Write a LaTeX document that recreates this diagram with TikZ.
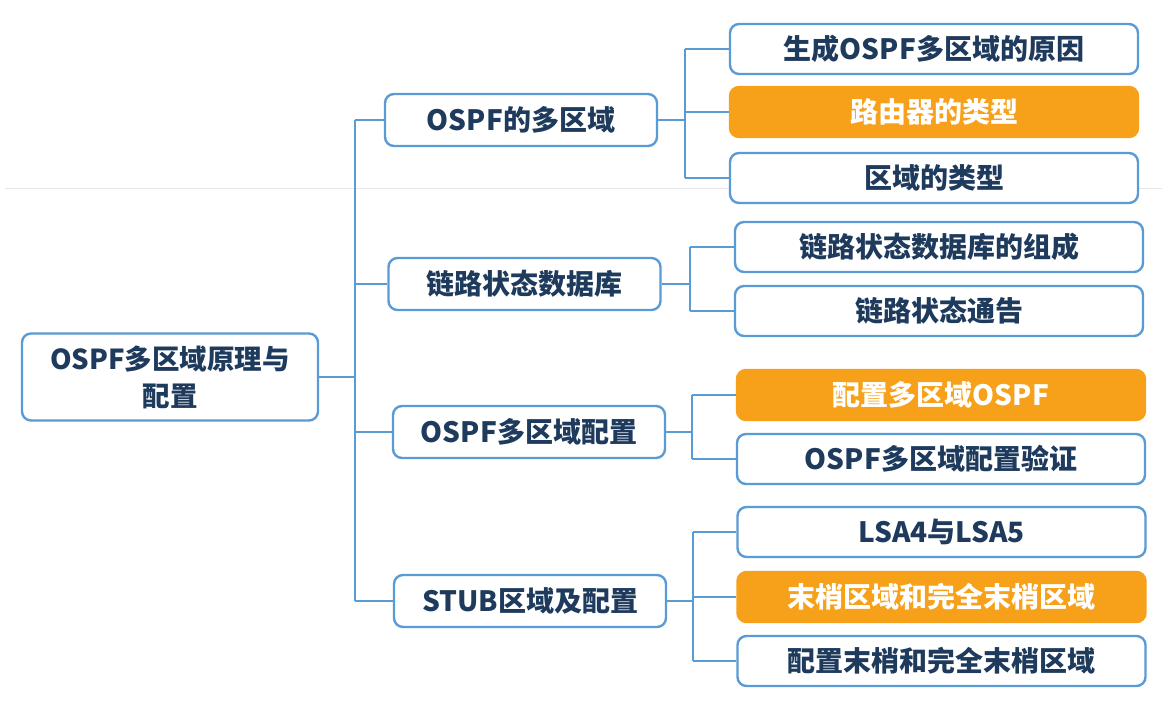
\documentclass[tikz,border=0pt]{standalone}
\usepackage{fontspec}
\usepackage{tikz}
\usetikzlibrary{positioning,calc}
\newfontfamily\cjk{Noto Sans CJK SC}
\definecolor{ink}{HTML}{1E3A5C}
\definecolor{edge}{HTML}{5B9BD5}
\definecolor{hot}{HTML}{F7A11A}
\definecolor{seam}{HTML}{E4E7EB}

\begin{document}
\begin{tikzpicture}[x=1pt,y=-1pt,
  topic/.style={rectangle,rounded corners=9pt,draw=edge,line width=2.4pt,fill=white,
    font=\cjk\bfseries\fontsize{28}{37}\selectfont,text=ink,align=center,inner sep=0pt},
  root/.style={topic,minimum width=296pt,minimum height=87pt,font=\cjk\bfseries\fontsize{27.5}{37}\selectfont},
  mid/.style={topic,minimum width=272pt,minimum height=52pt},
  leaf/.style={topic,minimum width=408pt,minimum height=50pt},
  pick/.style={fill=hot,draw=hot,text=white},
  link/.style={draw=edge,line width=2pt},
]
  \useasboundingbox[fill=white] (0,0) rectangle (1162,701);
  % faint seam across the screenshot
  \draw[seam,line width=1pt] (5,188) -- (1162,188);

  \node[root] (osp) at (170,377) {OSPF多区域原理与\\配置};

  \node[mid] (area) at (521,120) {OSPF的多区域};
  \node[mid] (lsdb) at (524.5,284) {链路状态数据库};
  \node[mid] (cfg)  at (529,432) {OSPF多区域配置};
  \node[mid] (stub) at (530,601) {STUB区域及配置};

  \node[leaf]      (a1) at (934,49)  {生成OSPF多区域的原因};
  \node[leaf,pick] (a2) at (934,112) {路由器的类型};
  \node[leaf]      (a3) at (934,178) {区域的类型};

  \node[leaf] (b1) at (939,247) {链路状态数据库的组成};
  \node[leaf] (b2) at (939,311) {链路状态通告};

  \node[leaf,pick] (c1) at (941,395) {配置多区域OSPF};
  \node[leaf]      (c2) at (941,459) {OSPF多区域配置验证};

  \node[leaf]      (d1) at (941.5,532) {LSA4与LSA5};
  \node[leaf,pick] (d2) at (941.5,597) {末梢区域和完全末梢区域};
  \node[leaf]      (d3) at (941.5,661) {配置末梢和完全末梢区域};

  % trunk
  \coordinate (trunk) at (355,377);
  \draw[link] (osp.east) -- (trunk);
  \draw[link] (trunk |- area) -- (trunk |- stub);
  \foreach \n in {area,lsdb,cfg,stub} \draw[link] (trunk |- \n) -- (\n.west);

  % forks
  \coordinate (fa) at (685,120);
  \coordinate (fb) at (690,284);
  \coordinate (fc) at (692,432);
  \coordinate (fd) at (693,601);
  \draw[link] (area.east) -- (fa); \draw[link] (fa |- a1) -- (fa |- a3);
  \draw[link] (lsdb.east) -- (fb); \draw[link] (fb |- b1) -- (fb |- b2);
  \draw[link] (cfg.east)  -- (fc); \draw[link] (fc |- c1) -- (fc |- c2);
  \draw[link] (stub.east) -- (fd); \draw[link] (fd |- d1) -- (fd |- d3);
  \foreach \n in {a1,a2,a3} \draw[link] (fa |- \n) -- (\n.west);
  \foreach \n in {b1,b2} \draw[link] (fb |- \n) -- (\n.west);
  \foreach \n in {c1,c2} \draw[link] (fc |- \n) -- (\n.west);
  \foreach \n in {d1,d2,d3} \draw[link] (fd |- \n) -- (\n.west);
\end{tikzpicture}
\end{document}
